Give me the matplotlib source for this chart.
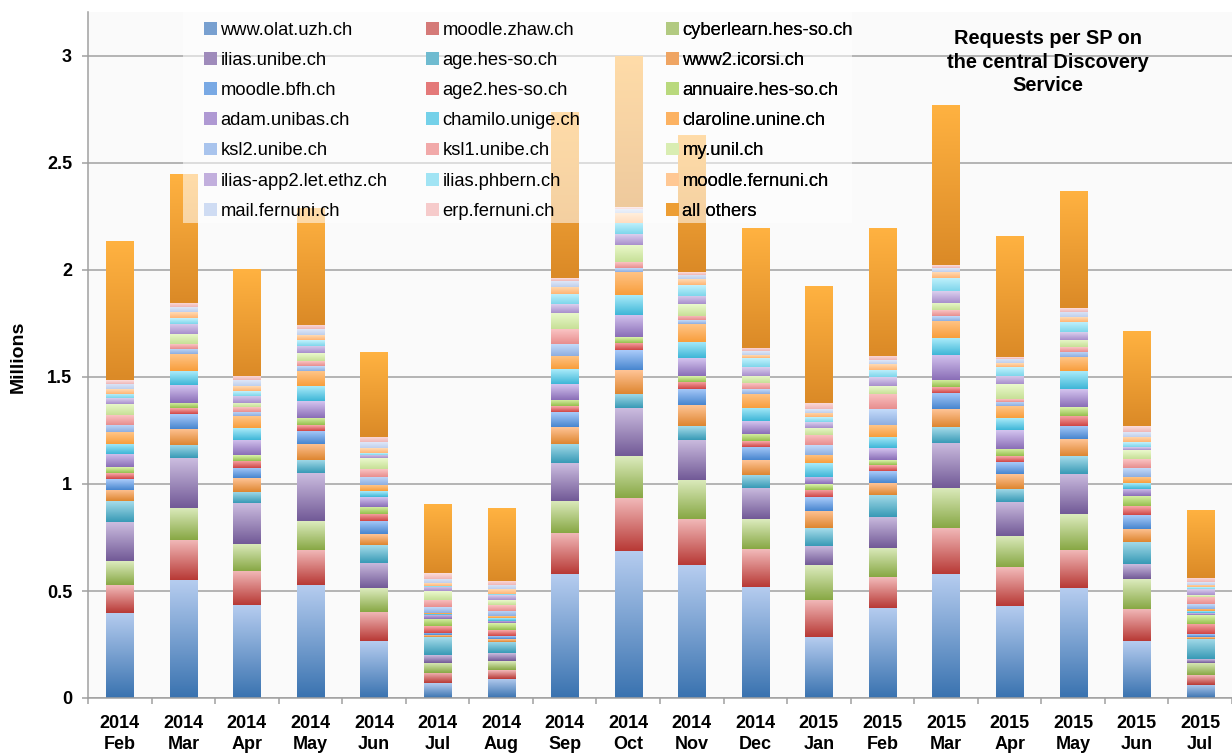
import numpy as np
import matplotlib
matplotlib.use("Agg")
import matplotlib.pyplot as plt
from matplotlib.patches import Rectangle
from matplotlib.colors import to_rgb

plt.rcParams['font.family'] = ['Liberation Sans', 'DejaVu Sans']

months = ["2014\nFeb", "2014\nMar", "2014\nApr", "2014\nMay", "2014\nJun", "2014\nJul",
          "2014\nAug", "2014\nSep", "2014\nOct", "2014\nNov", "2014\nDec", "2015\nJan",
          "2015\nFeb", "2015\nMar", "2015\nApr", "2015\nMay", "2015\nJun", "2015\nJul"]

series_names = ["www.olat.uzh.ch", "moodle.zhaw.ch", "cyberlearn.hes-so.ch",
                "ilias.unibe.ch", "age.hes-so.ch", "www2.icorsi.ch",
                "moodle.bfh.ch", "age2.hes-so.ch", "annuaire.hes-so.ch",
                "adam.unibas.ch", "chamilo.unige.ch", "claroline.unine.ch",
                "ksl2.unibe.ch", "ksl1.unibe.ch", "my.unil.ch",
                "ilias-app2.let.ethz.ch", "ilias.phbern.ch", "moodle.fernuni.ch",
                "mail.fernuni.ch", "erp.fernuni.ch", "all others"]

olat      = [0.399, 0.551, 0.434, 0.528, 0.266, 0.070, 0.089, 0.579, 0.687, 0.621, 0.519, 0.285, 0.421, 0.579, 0.430, 0.514, 0.266, 0.061]
zhaw      = [0.129, 0.187, 0.159, 0.164, 0.136, 0.047, 0.042, 0.192, 0.248, 0.215, 0.177, 0.173, 0.144, 0.215, 0.182, 0.178, 0.150, 0.046]
cyber     = [0.112, 0.150, 0.127, 0.135, 0.112, 0.047, 0.042, 0.150, 0.196, 0.183, 0.140, 0.163, 0.136, 0.187, 0.145, 0.168, 0.140, 0.057]
ilias     = [0.182, 0.233, 0.191, 0.224, 0.117, 0.037, 0.037, 0.177, 0.224, 0.187, 0.145, 0.089, 0.145, 0.211, 0.159, 0.187, 0.070, 0.018]
age       = [0.098, 0.061, 0.052, 0.061, 0.084, 0.084, 0.052, 0.089, 0.066, 0.065, 0.061, 0.084, 0.103, 0.074, 0.061, 0.084, 0.103, 0.094]
icorsi    = [0.052, 0.075, 0.065, 0.075, 0.051, 0.009, 0.014, 0.079, 0.112, 0.098, 0.070, 0.080, 0.056, 0.084, 0.070, 0.079, 0.061, 0.009]
bfh       = [0.051, 0.070, 0.047, 0.061, 0.061, 0.010, 0.014, 0.070, 0.093, 0.075, 0.061, 0.065, 0.056, 0.075, 0.056, 0.061, 0.065, 0.014]
age2      = [0.027, 0.028, 0.033, 0.028, 0.033, 0.032, 0.028, 0.028, 0.033, 0.033, 0.028, 0.033, 0.028, 0.028, 0.028, 0.047, 0.042, 0.047]
annuaire  = [0.028, 0.024, 0.027, 0.033, 0.033, 0.033, 0.032, 0.029, 0.028, 0.028, 0.033, 0.028, 0.023, 0.033, 0.033, 0.042, 0.047, 0.042]
adam      = [0.062, 0.084, 0.072, 0.079, 0.046, 0.019, 0.010, 0.074, 0.103, 0.084, 0.060, 0.033, 0.056, 0.117, 0.088, 0.084, 0.033, 0.009]
chamilo   = [0.047, 0.065, 0.056, 0.070, 0.028, 0.005, 0.014, 0.070, 0.093, 0.075, 0.061, 0.065, 0.052, 0.079, 0.056, 0.084, 0.028, 0.009]
claroline = [0.056, 0.079, 0.056, 0.070, 0.028, 0.005, 0.009, 0.061, 0.108, 0.084, 0.066, 0.038, 0.056, 0.080, 0.056, 0.065, 0.028, 0.010]
ksl2      = [0.033, 0.024, 0.019, 0.023, 0.038, 0.027, 0.024, 0.056, 0.018, 0.018, 0.023, 0.046, 0.074, 0.023, 0.019, 0.024, 0.042, 0.023]
ksl1      = [0.045, 0.023, 0.020, 0.023, 0.037, 0.033, 0.028, 0.070, 0.028, 0.019, 0.028, 0.047, 0.071, 0.028, 0.014, 0.023, 0.042, 0.033]
myunil    = [0.053, 0.047, 0.022, 0.037, 0.051, 0.042, 0.023, 0.075, 0.080, 0.056, 0.033, 0.033, 0.037, 0.033, 0.070, 0.033, 0.042, 0.009]
iliasapp2 = [0.028, 0.047, 0.033, 0.033, 0.015, 0.019, 0.023, 0.042, 0.051, 0.038, 0.042, 0.028, 0.042, 0.056, 0.038, 0.037, 0.014, 0.028]
phbern    = [0.019, 0.028, 0.023, 0.028, 0.009, 0.005, 0.005, 0.047, 0.052, 0.051, 0.042, 0.023, 0.033, 0.061, 0.042, 0.047, 0.023, 0.009]
fernuni   = [0.023, 0.028, 0.023, 0.023, 0.023, 0.013, 0.023, 0.033, 0.046, 0.028, 0.014, 0.019, 0.028, 0.028, 0.018, 0.023, 0.024, 0.010]
mail      = [0.025, 0.023, 0.028, 0.028, 0.028, 0.019, 0.019, 0.028, 0.019, 0.019, 0.018, 0.018, 0.018, 0.018, 0.019, 0.024, 0.023, 0.014]
erp       = [0.017, 0.019, 0.019, 0.019, 0.024, 0.028, 0.019, 0.014, 0.009, 0.014, 0.015, 0.029, 0.019, 0.014, 0.009, 0.018, 0.028, 0.019]
others    = [0.650, 0.603, 0.500, 0.547, 0.397, 0.323, 0.341, 0.775, 0.706, 0.640, 0.560, 0.546, 0.598, 0.748, 0.566, 0.547, 0.444, 0.318]

series_values = [olat, zhaw, cyber, ilias, age, icorsi, bfh, age2, annuaire, adam,
                 chamilo, claroline, ksl2, ksl1, myunil, iliasapp2, phbern, fernuni,
                 mail, erp, others]

# (light top, dark bottom) gradient colours per series
grad_colors = [
    ("#B5CCEF", "#3A73B0"), ("#F2BABA", "#B83A36"), ("#DCEBBD", "#88A845"),
    ("#CBBCDF", "#725A97"), ("#A6DCEA", "#389AB6"), ("#FFC496", "#DE8630"),
    ("#AACBFA", "#4886CF"), ("#F9ABAB", "#CF4646"), ("#DCF3AC", "#96BF4E"),
    ("#D4C4EF", "#8A6EB7"), ("#AAEBFA", "#3EB6D7"), ("#FFC588", "#F89E3C"),
    ("#C4DBFA", "#8EAEE0"), ("#FAC4C4", "#E88E8E"), ("#EBF9CD", "#C7E097"),
    ("#DBCFEE", "#A88FCC"), ("#C4F2FD", "#7ED6EB"), ("#FFDBB4", "#FFB574"),
    ("#DFE8F9", "#BFCFEC"), ("#FCDFDF", "#EFB6B6"), ("#FFB241", "#DB8A27"),
]

fig = plt.figure(figsize=(12.32, 7.54), dpi=100)
ax = fig.add_axes([88/1232, 56/754, 1 - 88/1232, (698-12)/754])
ax.set_facecolor("#FAFAFA")

x = np.arange(len(months))
width = 0.425
bottom = np.zeros(len(months))
for vals, (c_top, c_bot) in zip(series_values, grad_colors):
    vals = np.array(vals)
    top_rgb = np.array(to_rgb(c_top))
    bot_rgb = np.array(to_rgb(c_bot))
    mid = (top_rgb + bot_rgb) / 2
    bars = ax.bar(x, vals, width, bottom=bottom, color=mid, edgecolor='none',
                  linewidth=0, zorder=2)
    t = np.linspace(0, 1, 48)[:, None, None]
    grad = bot_rgb[None, None, :] * (1 - t) + top_rgb[None, None, :] * t
    for p in bars:
        x0, y0 = p.get_xy()
        w, h = p.get_width(), p.get_height()
        if h <= 0:
            continue
        im = ax.imshow(grad, extent=(x0, x0 + w, y0, y0 + h), origin='lower',
                       aspect='auto', interpolation='bilinear', zorder=2.1)
        im.set_clip_path(p)
    bottom += vals

ax.set_xlim(-0.5, len(months) - 0.5)
ax.set_ylim(0, (698 - 12) / 214)

# y axis
ax.set_yticks(np.arange(0, 3.01, 0.5))
ax.set_yticklabels(["0", "0.5", "1", "1.5", "2", "2.5", "3"])
ax.yaxis.grid(True, color="#A8A8A8", linewidth=1.2, zorder=0)
ax.set_axisbelow(True)
ax.tick_params(axis='y', length=4.5, width=1.1, color="#A0A0A0", pad=7,
               labelsize=13)
for lab in ax.get_yticklabels():
    lab.set_fontweight('bold')

# x axis: tick marks at boundaries, labels at centres
ax.set_xticks(np.arange(-0.5, len(months), 1.0))
ax.set_xticklabels([])
ax.tick_params(axis='x', which='major', length=4, width=1.1, color="#A0A0A0")
ax.set_xticks(x, minor=True)
ax.set_xticklabels(months, minor=True, fontsize=13, fontweight='bold',
                   linespacing=1.3)
ax.tick_params(axis='x', which='minor', length=0, pad=12)

for s in ['top', 'right']:
    ax.spines[s].set_visible(False)
for s in ['left', 'bottom']:
    ax.spines[s].set_color("#A0A0A0")
    ax.spines[s].set_linewidth(1.1)

fig.text(18/1232, 1 - 357/754, "Millions", rotation=90, ha='center', va='center',
         fontsize=14, fontweight='bold')

# semi-transparent legend box
ax_w = 1232 - 88
ax_h = 698 - 12
box = Rectangle(((183-88)/ax_w, (698-223)/ax_h), (852-183)/ax_w, (223-12)/ax_h,
                transform=ax.transAxes, facecolor='white', alpha=0.55,
                edgecolor='none', zorder=3)
ax.add_patch(box)

handles = [Rectangle((0, 0), 1, 1, facecolor=(np.array(to_rgb(a)) + np.array(to_rgb(b))) / 2,
                     edgecolor='none') for a, b in grad_colors]
col_x = [204, 426, 666]
for c in range(3):
    idx = list(range(c, len(series_names), 3))
    leg = ax.legend([handles[i] for i in idx], [series_names[i] for i in idx],
                    loc='upper left',
                    bbox_to_anchor=((col_x[c] - 88) / ax_w, (698 - 22) / ax_h),
                    frameon=False, fontsize=13.2, handlelength=0.7, handleheight=0.7,
                    handletextpad=0.2, labelspacing=0.715, borderpad=0,
                    borderaxespad=0)
    leg.set_zorder(4)
    ax.add_artist(leg)

ax.text((1048-88)/ax_w, (698-29)/ax_h,
        "Requests per SP on\nthe central Discovery\nService",
        transform=ax.transAxes, ha='center', va='top', fontsize=14.4,
        fontweight='bold', linespacing=1.3, zorder=5)

fig.savefig("out.png", dpi=100)
